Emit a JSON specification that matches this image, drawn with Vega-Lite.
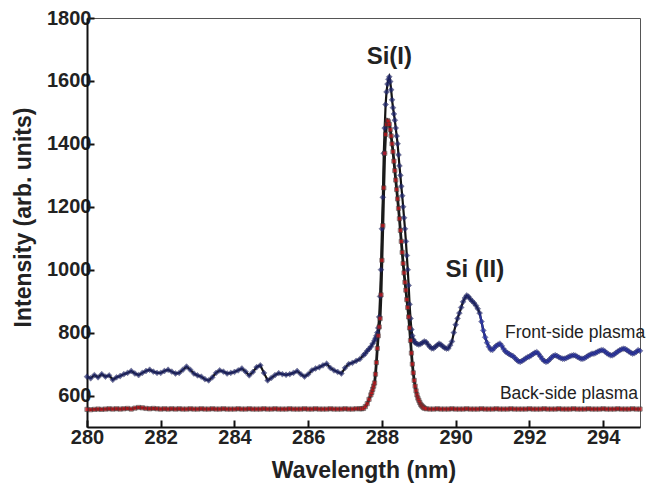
{
"$schema": "https://vega.github.io/schema/vega-lite/v6.json",
"autosize": "none",
"width": 553,
"height": 409,
"padding": {"left": 87, "top": 18, "right": 8, "bottom": 63},
"background": "white",
"config": {"font": "Liberation Sans", "view": {"stroke": "#555", "strokeWidth": 1}},
"datasets": {
"front": [
{"x":280.0,"y":660},{"x":280.1,"y":655},{"x":280.2,"y":665},{"x":280.3,"y":658},{"x":280.4,"y":668},{"x":280.5,"y":660},{"x":280.6,"y":664},{"x":280.7,"y":650},{"x":280.8,"y":658},{"x":280.9,"y":662},
{"x":281.0,"y":668},{"x":281.1,"y":672},{"x":281.2,"y":678},{"x":281.3,"y":670},{"x":281.4,"y":665},{"x":281.5,"y":672},{"x":281.6,"y":678},{"x":281.7,"y":682},{"x":281.8,"y":676},{"x":281.9,"y":672},
{"x":282.0,"y":672},{"x":282.1,"y":678},{"x":282.2,"y":682},{"x":282.3,"y":676},{"x":282.4,"y":670},{"x":282.5,"y":672},{"x":282.6,"y":682},{"x":282.7,"y":692},{"x":282.8,"y":682},{"x":282.9,"y":670},
{"x":283.0,"y":664},{"x":283.1,"y":660},{"x":283.2,"y":652},{"x":283.3,"y":648},{"x":283.4,"y":658},{"x":283.5,"y":672},{"x":283.6,"y":680},{"x":283.7,"y":676},{"x":283.8,"y":670},{"x":283.9,"y":672},
{"x":284.0,"y":675},{"x":284.1,"y":680},{"x":284.2,"y":686},{"x":284.3,"y":676},{"x":284.4,"y":664},{"x":284.5,"y":675},{"x":284.6,"y":690},{"x":284.7,"y":696},{"x":284.8,"y":672},{"x":284.9,"y":648},
{"x":285.0,"y":656},{"x":285.1,"y":665},{"x":285.2,"y":671},{"x":285.3,"y":668},{"x":285.4,"y":666},{"x":285.5,"y":668},{"x":285.6,"y":672},{"x":285.7,"y":678},{"x":285.8,"y":668},{"x":285.9,"y":660},
{"x":286.0,"y":668},{"x":286.1,"y":680},{"x":286.2,"y":686},{"x":286.3,"y":690},{"x":286.4,"y":696},{"x":286.5,"y":701},{"x":286.6,"y":688},{"x":286.7,"y":680},{"x":286.8,"y":675},{"x":286.9,"y":670},
{"x":287.0,"y":688},{"x":287.1,"y":700},{"x":287.2,"y":704},{"x":287.3,"y":710},{"x":287.4,"y":716},{"x":287.5,"y":728},{"x":287.55,"y":734},{"x":287.6,"y":742},{"x":287.65,"y":748},{"x":287.7,"y":755},
{"x":287.75,"y":765},{"x":287.8,"y":775},{"x":287.825,"y":782},{"x":287.85,"y":790},{"x":287.875,"y":800},{"x":287.9,"y":815},{"x":287.925,"y":850},{"x":287.95,"y":915},{"x":287.975,"y":1000},{"x":288.0,"y":1130},
{"x":288.025,"y":1230},{"x":288.05,"y":1370},{"x":288.075,"y":1450},{"x":288.1,"y":1525},{"x":288.125,"y":1565},{"x":288.15,"y":1590},{"x":288.175,"y":1605},{"x":288.2,"y":1613},{"x":288.225,"y":1598},{"x":288.25,"y":1572},
{"x":288.275,"y":1540},{"x":288.3,"y":1515},{"x":288.325,"y":1495},{"x":288.35,"y":1475},{"x":288.375,"y":1450},{"x":288.4,"y":1425},{"x":288.425,"y":1400},{"x":288.45,"y":1365},{"x":288.475,"y":1330},{"x":288.5,"y":1300},
{"x":288.525,"y":1265},{"x":288.55,"y":1235},{"x":288.575,"y":1200},{"x":288.6,"y":1165},{"x":288.625,"y":1130},{"x":288.65,"y":1090},{"x":288.675,"y":1045},{"x":288.7,"y":1000},{"x":288.725,"y":950},{"x":288.75,"y":890},
{"x":288.775,"y":845},{"x":288.8,"y":810},{"x":288.825,"y":790},{"x":288.85,"y":778},{"x":288.875,"y":772},{"x":288.9,"y":768},{"x":288.95,"y":764},{"x":289.0,"y":762},{"x":289.05,"y":764},{"x":289.1,"y":768},
{"x":289.15,"y":772},{"x":289.2,"y":770},{"x":289.25,"y":762},{"x":289.3,"y":755},{"x":289.35,"y":750},{"x":289.4,"y":750},{"x":289.45,"y":755},{"x":289.5,"y":760},{"x":289.55,"y":765},{"x":289.6,"y":762},
{"x":289.65,"y":756},{"x":289.7,"y":752},{"x":289.75,"y":749},{"x":289.8,"y":750},{"x":289.85,"y":760},{"x":289.9,"y":772},{"x":289.95,"y":800},{"x":290.0,"y":825},{"x":290.05,"y":845},{"x":290.1,"y":862},
{"x":290.15,"y":880},{"x":290.2,"y":898},{"x":290.25,"y":910},{"x":290.3,"y":918},{"x":290.35,"y":914},{"x":290.4,"y":906},{"x":290.45,"y":900},{"x":290.5,"y":894},{"x":290.55,"y":886},{"x":290.6,"y":876},{"x":290.65,"y":862},
{"x":290.7,"y":835},{"x":290.75,"y":807},{"x":290.8,"y":785},{"x":290.85,"y":768},{"x":290.9,"y":755},{"x":290.95,"y":746},{"x":291.0,"y":745},{"x":291.05,"y":752},{"x":291.1,"y":758},{"x":291.15,"y":762},
{"x":291.2,"y":765},{"x":291.25,"y":758},{"x":291.3,"y":748},{"x":291.35,"y":740},{"x":291.4,"y":736},{"x":291.45,"y":732},{"x":291.5,"y":728},{"x":291.55,"y":726},{"x":291.6,"y":720},{"x":291.65,"y":714},
{"x":291.7,"y":709},{"x":291.75,"y":707},{"x":291.8,"y":710},{"x":291.85,"y":714},{"x":291.9,"y":718},{"x":291.95,"y":722},{"x":292.0,"y":724},{"x":292.05,"y":728},{"x":292.1,"y":732},{"x":292.15,"y":736},
{"x":292.2,"y":738},{"x":292.25,"y":732},{"x":292.3,"y":724},{"x":292.35,"y":716},{"x":292.4,"y":710},{"x":292.45,"y":707},{"x":292.5,"y":709},{"x":292.55,"y":715},{"x":292.6,"y":721},{"x":292.65,"y":726},
{"x":292.7,"y":728},{"x":292.75,"y":726},{"x":292.8,"y":722},{"x":292.85,"y":719},{"x":292.9,"y":717},{"x":292.95,"y":717},{"x":293.0,"y":719},{"x":293.05,"y":722},{"x":293.1,"y":725},{"x":293.15,"y":727},
{"x":293.2,"y":728},{"x":293.25,"y":727},{"x":293.3,"y":723},{"x":293.35,"y":720},{"x":293.4,"y":717},{"x":293.45,"y":717},{"x":293.5,"y":719},{"x":293.55,"y":723},{"x":293.6,"y":727},{"x":293.65,"y":730},
{"x":293.7,"y":733},{"x":293.75,"y":733},{"x":293.8,"y":736},{"x":293.85,"y":739},{"x":293.9,"y":742},{"x":293.95,"y":744},{"x":294.0,"y":744},{"x":294.05,"y":740},{"x":294.1,"y":735},{"x":294.15,"y":731},
{"x":294.2,"y":728},{"x":294.25,"y":728},{"x":294.3,"y":731},{"x":294.35,"y":736},{"x":294.4,"y":740},{"x":294.45,"y":744},{"x":294.5,"y":747},{"x":294.55,"y":749},{"x":294.6,"y":748},{"x":294.65,"y":744},
{"x":294.7,"y":740},{"x":294.75,"y":736},{"x":294.8,"y":733},{"x":294.85,"y":735},{"x":294.9,"y":739},{"x":294.95,"y":744},{"x":295.0,"y":742}
],
"back": [
{"x":280.0,"y":556},{"x":280.1,"y":555},{"x":280.2,"y":556},{"x":280.3,"y":557},{"x":280.4,"y":556},{"x":280.5,"y":557},{"x":280.6,"y":558},{"x":280.7,"y":557},{"x":280.8,"y":558},{"x":280.9,"y":557},
{"x":281.0,"y":558},{"x":281.1,"y":559},{"x":281.2,"y":557},{"x":281.3,"y":560},{"x":281.4,"y":562},{"x":281.5,"y":561},{"x":281.6,"y":559},{"x":281.7,"y":558},{"x":281.8,"y":559},{"x":281.9,"y":558},
{"x":282.0,"y":557},{"x":282.1,"y":558},{"x":282.2,"y":557},{"x":282.3,"y":558},{"x":282.4,"y":557},{"x":282.5,"y":558},{"x":282.6,"y":557},{"x":282.7,"y":557},{"x":282.8,"y":558},{"x":282.9,"y":557},
{"x":283.0,"y":557},{"x":283.1,"y":558},{"x":283.2,"y":557},{"x":283.3,"y":557},{"x":283.4,"y":558},{"x":283.5,"y":557},{"x":283.6,"y":557},{"x":283.7,"y":558},{"x":283.8,"y":557},{"x":283.9,"y":557},
{"x":284.0,"y":557},{"x":284.1,"y":558},{"x":284.2,"y":557},{"x":284.3,"y":557},{"x":284.4,"y":558},{"x":284.5,"y":557},{"x":284.6,"y":557},{"x":284.7,"y":557},{"x":284.8,"y":558},{"x":284.9,"y":557},
{"x":285.0,"y":557},{"x":285.1,"y":558},{"x":285.2,"y":557},{"x":285.3,"y":557},{"x":285.4,"y":557},{"x":285.5,"y":558},{"x":285.6,"y":557},{"x":285.7,"y":557},{"x":285.8,"y":557},{"x":285.9,"y":558},
{"x":286.0,"y":557},{"x":286.1,"y":557},{"x":286.2,"y":558},{"x":286.3,"y":557},{"x":286.4,"y":557},{"x":286.5,"y":557},{"x":286.6,"y":558},{"x":286.7,"y":557},{"x":286.8,"y":557},{"x":286.9,"y":557},
{"x":287.0,"y":558},{"x":287.1,"y":557},{"x":287.2,"y":557},{"x":287.3,"y":558},{"x":287.4,"y":558},{"x":287.45,"y":558},{"x":287.5,"y":559},{"x":287.55,"y":565},{"x":287.6,"y":574},{"x":287.65,"y":588},
{"x":287.7,"y":602},{"x":287.725,"y":610},{"x":287.75,"y":620},{"x":287.775,"y":630},{"x":287.8,"y":640},{"x":287.825,"y":668},{"x":287.85,"y":705},{"x":287.875,"y":750},{"x":287.9,"y":790},{"x":287.925,"y":818},
{"x":287.95,"y":845},{"x":287.975,"y":920},{"x":288.0,"y":1030},{"x":288.025,"y":1140},{"x":288.05,"y":1260},{"x":288.075,"y":1370},{"x":288.1,"y":1430},{"x":288.125,"y":1462},{"x":288.15,"y":1474},{"x":288.175,"y":1470},
{"x":288.2,"y":1462},{"x":288.225,"y":1445},{"x":288.25,"y":1425},{"x":288.275,"y":1400},{"x":288.3,"y":1375},{"x":288.325,"y":1345},{"x":288.35,"y":1315},{"x":288.375,"y":1285},{"x":288.4,"y":1255},{"x":288.425,"y":1225},
{"x":288.45,"y":1195},{"x":288.475,"y":1162},{"x":288.5,"y":1125},{"x":288.525,"y":1090},{"x":288.55,"y":1055},{"x":288.575,"y":1020},{"x":288.6,"y":990},{"x":288.625,"y":960},{"x":288.65,"y":935},{"x":288.675,"y":905},
{"x":288.7,"y":880},{"x":288.725,"y":850},{"x":288.75,"y":815},{"x":288.775,"y":775},{"x":288.8,"y":735},{"x":288.825,"y":700},{"x":288.85,"y":672},{"x":288.875,"y":648},{"x":288.9,"y":630},{"x":288.925,"y":615},
{"x":288.95,"y":602},{"x":288.975,"y":592},{"x":289.0,"y":585},{"x":289.025,"y":578},{"x":289.05,"y":572},{"x":289.075,"y":568},{"x":289.1,"y":565},{"x":289.125,"y":562},{"x":289.15,"y":560},{"x":289.2,"y":558},
{"x":289.3,"y":557},{"x":289.4,"y":557},{"x":289.5,"y":558},{"x":289.6,"y":557},{"x":289.7,"y":557},{"x":289.8,"y":557},{"x":289.9,"y":558},{"x":290.0,"y":557},{"x":290.1,"y":557},{"x":290.2,"y":557},
{"x":290.3,"y":558},{"x":290.4,"y":557},{"x":290.5,"y":557},{"x":290.6,"y":557},{"x":290.7,"y":558},{"x":290.8,"y":557},{"x":290.9,"y":557},{"x":291.0,"y":557},{"x":291.1,"y":558},{"x":291.2,"y":557},
{"x":291.3,"y":557},{"x":291.4,"y":557},{"x":291.5,"y":558},{"x":291.6,"y":557},{"x":291.7,"y":557},{"x":291.8,"y":557},{"x":291.9,"y":557},{"x":292.0,"y":558},{"x":292.1,"y":557},{"x":292.2,"y":557},
{"x":292.3,"y":557},{"x":292.4,"y":558},{"x":292.5,"y":557},{"x":292.6,"y":557},{"x":292.7,"y":557},{"x":292.8,"y":558},{"x":292.9,"y":557},{"x":293.0,"y":557},{"x":293.1,"y":557},{"x":293.2,"y":558},
{"x":293.3,"y":557},{"x":293.4,"y":557},{"x":293.5,"y":557},{"x":293.6,"y":558},{"x":293.7,"y":557},{"x":293.8,"y":557},{"x":293.9,"y":557},{"x":294.0,"y":558},{"x":294.1,"y":557},{"x":294.2,"y":557},
{"x":294.3,"y":557},{"x":294.4,"y":558},{"x":294.5,"y":557},{"x":294.6,"y":557},{"x":294.7,"y":557},{"x":294.8,"y":558},{"x":294.9,"y":557},{"x":295.0,"y":557}
]
},
"layer": [
{"data": {"name": "front"}, "mark": {"type": "line", "color": "#141414", "strokeWidth": 2.2},
 "encoding": {
 "x": {"field": "x", "type": "quantitative",
  "scale": {"domain": [280, 295], "nice": false, "zero": false},
  "axis": {"title": "Wavelength (nm)", "values": [280,281,282,283,284,285,286,287,288,289,290,291,292,293,294],
    "labelExpr": "datum.value % 2 === 0 ? datum.label : ''", "labelFlush": false, "labelOverlap": false,
    "tickSize": {"condition": {"test": "datum.value % 2 === 0", "value": -7}, "value": -4},
    "tickColor": "#111", "tickWidth": 2, "domainColor": "#111", "domainWidth": 2,
    "labelFont": "Liberation Sans", "labelFontSize": 20, "labelFontWeight": "bold", "labelColor": "#222", "labelPadding": 7,
    "titleFont": "Liberation Sans", "titleFontSize": 23, "titleFontWeight": "bold", "titleColor": "#222", "titlePadding": 12, "grid": false}},
 "y": {"field": "y", "type": "quantitative",
  "scale": {"domain": [500, 1800], "nice": false, "zero": false},
  "axis": {"title": "Intensity (arb. units)", "values": [600,700,800,900,1000,1100,1200,1300,1400,1500,1600,1700,1800], "format": "d",
    "labelExpr": "datum.value % 200 === 0 ? datum.label : ''", "labelFlush": false, "labelOverlap": false,
    "tickSize": {"condition": {"test": "datum.value % 200 === 0", "value": -7}, "value": -4},
    "tickColor": "#111", "tickWidth": 2, "domainColor": "#111", "domainWidth": 2,
    "labelFont": "Liberation Sans", "labelFontSize": 20, "labelFontWeight": "bold", "labelColor": "#222", "labelPadding": 3,
    "titleFont": "Liberation Sans", "titleFontSize": 23, "titleFontWeight": "bold", "titleColor": "#222",
    "titleX": -64, "titleY": 199, "titleBaseline": "middle", "titleAngle": -90, "grid": false}}
 }},
{"data": {"name": "front"}, "transform": [{"filter": "datum.x >= 290.65"}], "mark": {"type": "line", "color": "#2d37a3", "strokeWidth": 2.2},
 "encoding": {"x": {"field": "x", "type": "quantitative"}, "y": {"field": "y", "type": "quantitative"}}},
{"data": {"name": "back"}, "mark": {"type": "line", "color": "#1a1a1a", "strokeWidth": 2.8},
 "encoding": {"x": {"field": "x", "type": "quantitative"}, "y": {"field": "y", "type": "quantitative"}}},
{"data": {"name": "front"}, "mark": {"type": "point", "shape": "diamond", "filled": true, "size": 34, "stroke": "#1a1a40", "strokeWidth": 0.5},
 "encoding": {"x": {"field": "x", "type": "quantitative"}, "y": {"field": "y", "type": "quantitative"},
  "color": {"condition": {"test": "datum.x >= 290.66", "value": "#2d37a3"}, "value": "#222a78"}}},
{"data": {"name": "back"}, "mark": {"type": "point", "shape": "square", "filled": true, "size": 18, "color": "#d9161c", "stroke": "#3a3a3a", "strokeWidth": 0.8},
 "encoding": {"x": {"field": "x", "type": "quantitative"}, "y": {"field": "y", "type": "quantitative"}}},
{"data": {"values": [{}]}, "mark": {"type": "text", "text": "Si(I)", "font": "Liberation Sans", "fontSize": 24, "fontWeight": "bold", "color": "#222"},
  "encoding": {"x": {"datum": 288.2}, "y": {"datum": 1676}}},
{"data": {"values": [{}]}, "mark": {"type": "text", "text": "Si (II)", "font": "Liberation Sans", "fontSize": 24, "fontWeight": "bold", "color": "#222"},
  "encoding": {"x": {"datum": 290.52}, "y": {"datum": 998}}},
{"data": {"values": [{}]}, "mark": {"type": "text", "text": "Front-side plasma", "font": "Liberation Sans", "fontSize": 17.5, "align": "left", "color": "#222"},
  "encoding": {"x": {"datum": 291.34}, "y": {"datum": 800}}},
{"data": {"values": [{}]}, "mark": {"type": "text", "text": "Back-side plasma", "font": "Liberation Sans", "fontSize": 17.5, "align": "left", "color": "#222"},
  "encoding": {"x": {"datum": 291.2}, "y": {"datum": 604}}}
]
}
